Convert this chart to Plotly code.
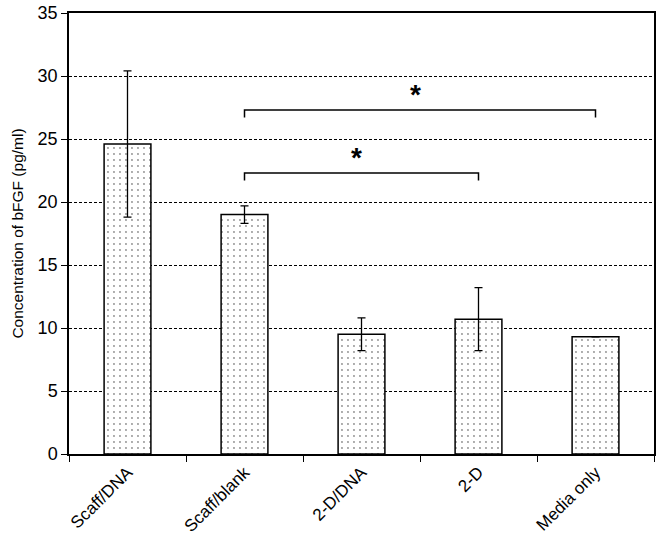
import plotly.graph_objects as go

categories = ["Scaff/DNA", "Scaff/blank", "2-D/DNA", "2-D", "Media only"]
concentration = [24.6, 19.0, 9.5, 10.7, 9.3]
error = [5.8, 0.7, 1.3, 2.5, 0]

# significance brackets: (start, end, height)
bracket_starts = ["Scaff/blank", "Scaff/blank"]
bracket_ends = ["2-D", "Media only"]
bracket_heights = [22.3, 27.3]
bracket_drop = 0.6
star_labels = ["*", "*"]

FONT = "Liberation Sans, Arial, sans-serif"

fig = go.Figure()

fig.add_trace(go.Bar(
    x=categories,
    y=concentration,
    width=0.4,
    marker=dict(
        color="white",
        line=dict(color="black", width=1.5),
        pattern=dict(shape=".", fgcolor="#222222", bgcolor="white", size=6, solidity=0.08),
    ),
    error_y=dict(type="data", array=error, visible=True, color="black", thickness=1.3, width=4),
    showlegend=False,
))

for start, end, h, star in zip(bracket_starts, bracket_ends, bracket_heights, star_labels):
    fig.add_trace(go.Scatter(
        x=[start, start, end, end],
        y=[h - bracket_drop, h, h, h - bracket_drop],
        mode="lines",
        line=dict(color="black", width=1.5),
        showlegend=False,
        hoverinfo="skip",
    ))
    i0 = categories.index(start)
    i1 = categories.index(end)
    fig.add_annotation(
        x=(i0 + i1) / 2 - 0.04, y=h, text="<b>" + star + "</b>",
        showarrow=False, yanchor="bottom", yshift=-2,
        font=dict(size=28, color="black", family=FONT),
    )

fig.update_layout(
    width=658,
    height=551,
    margin=dict(l=69, r=4, t=13, b=97),
    plot_bgcolor="white",
    paper_bgcolor="white",
    font=dict(family=FONT, color="black"),
)

fig.update_xaxes(
    type="category", automargin=False,
    showline=True, linecolor="black", linewidth=1.5, mirror=True,
    ticks="outside", tickson="boundaries", ticklen=6, tickcolor="black",
    tickangle=-45, tickfont=dict(size=17),
    showgrid=False,
)

fig.update_yaxes(
    range=[0, 35], dtick=5, automargin=False,
    showline=True, linecolor="black", linewidth=1.5, mirror=True,
    ticks="outside", ticklen=6, tickcolor="black",
    tickfont=dict(size=18),
    showgrid=True, gridcolor="black", gridwidth=1.3, griddash="3px,2px",
    zeroline=False,
    title=dict(text="Concentration of bFGF (pg/ml)", font=dict(size=15.5), standoff=10),
)

fig.write_html("out.html", config={"displayModeBar": False},
               post_script="document.body.style.margin = '0';")
